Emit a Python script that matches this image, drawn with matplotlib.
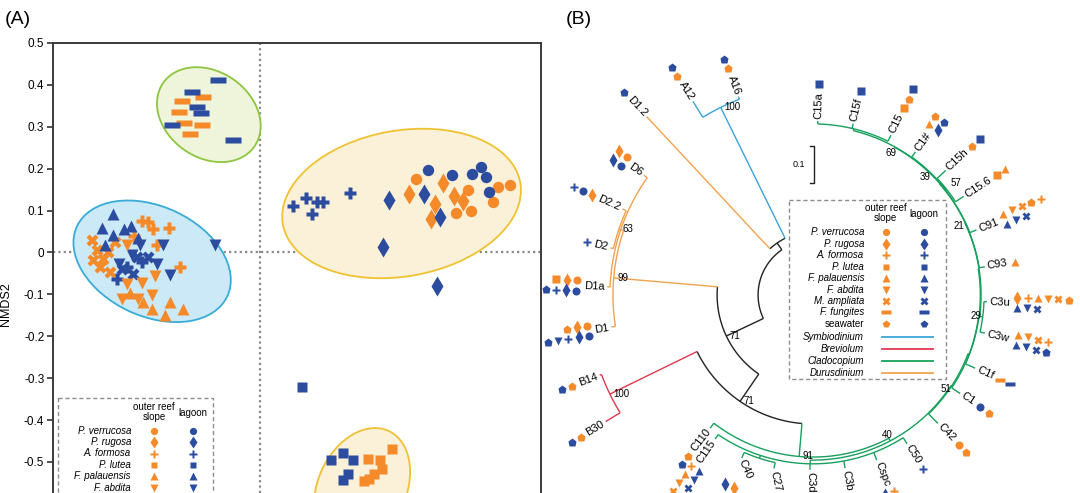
import numpy as np
import matplotlib.pyplot as plt
from matplotlib.patches import Ellipse, Rectangle
from matplotlib.path import Path
from matplotlib.textpath import TextPath
from matplotlib.font_manager import FontProperties

plt.rcParams['font.family'] = ['Liberation Sans', 'DejaVu Sans']

ORANGE = '#f58a2b'
BLUE = '#2c4d9f'

# ---------------- (A) NMDS coordinates (NMDS1, NMDS2) ----------------
verrucosa_outer = [(0.371, 0.175), (0.496, 0.149), (0.467, 0.094), (0.502, 0.098),
                   (0.555, 0.121), (0.567, 0.156), (0.596, 0.161)]
verrucosa_lagoon = [(0.400, 0.197), (0.458, 0.185), (0.504, 0.187), (0.525, 0.203),
                    (0.538, 0.179), (0.544, 0.145)]
rugosa_outer = [(0.354, 0.140), (0.435, 0.165), (0.417, 0.116), (0.461, 0.136),
                (0.407, 0.080), (0.483, 0.124)]
rugosa_lagoon = [(0.306, 0.126), (0.293, 0.013), (0.390, 0.140), (0.429, 0.084),
                 (0.421, -0.081)]
formosa_outer = [(-0.282, 0.076), (-0.254, 0.056), (-0.266, 0.072), (-0.218, 0.058),
                 (-0.190, -0.035), (-0.246, 0.017), (-0.300, 0.040)]
formosa_lagoon = [(0.078, 0.110), (0.110, 0.130), (0.135, 0.120), (0.149, 0.120),
                  (0.123, 0.092), (0.215, 0.141), (-0.282, -0.023), (-0.317, -0.035),
                  (-0.341, -0.063)]
lutea_outer = [(0.256, -0.494), (0.286, -0.495), (0.315, -0.470), (0.290, -0.517),
               (0.271, -0.529), (0.248, -0.545), (0.260, -0.540)]
lutea_lagoon = [(0.169, -0.495), (0.198, -0.479), (0.222, -0.495), (0.197, -0.543),
                (0.210, -0.529), (0.099, -0.322)]
palauensis_outer = [(-0.310, -0.096), (-0.258, -0.134), (-0.214, -0.117), (-0.183, -0.134),
                    (-0.226, -0.150), (-0.279, -0.117)]
palauensis_lagoon = [(-0.351, 0.092), (-0.377, 0.058), (-0.324, 0.055), (-0.349, 0.042),
                     (-0.290, 0.034), (-0.308, 0.063), (-0.369, 0.017)]
abdita_outer = [(-0.317, -0.075), (-0.282, -0.072), (-0.250, -0.055), (-0.329, -0.110),
                (-0.290, -0.112), (-0.258, -0.102), (-0.317, 0.017)]
abdita_lagoon = [(-0.107, 0.017), (-0.230, 0.017), (-0.214, -0.053), (-0.246, -0.027),
                 (-0.306, -0.007), (-0.286, 0.017), (-0.337, -0.027)]
ampliata_outer = [(-0.401, 0.029), (-0.389, 0.005), (-0.373, -0.015), (-0.381, -0.035),
                  (-0.357, -0.047), (-0.361, 0.001), (-0.345, 0.025), (-0.397, -0.019)]
ampliata_lagoon = [(-0.329, -0.040), (-0.292, -0.011), (-0.268, -0.011), (-0.303, -0.051)]
fungites_outer = [(-0.185, 0.362), (-0.136, 0.370), (-0.193, 0.336), (-0.182, 0.310),
                  (-0.139, 0.304), (-0.168, 0.284)]
fungites_lagoon = [(-0.101, 0.412), (-0.161, 0.383), (-0.149, 0.348), (-0.140, 0.334),
                   (-0.210, 0.304), (-0.065, 0.268)]

# clusters: centre x, centre y, width, height, angle
cluster_green = (-0.122, 0.329, 0.265, 0.205, -35)
cluster_blue = (-0.257, -0.021, 0.395, 0.262, -25)
cluster_yellow = (0.337, 0.117, 0.574, 0.348, 10)
cluster_yellow2 = (0.243, -0.562, 0.30, 0.21, 65)

species = ['P. verrucosa', 'P. rugosa', 'A. formosa', 'P. lutea', 'F. palauensis',
           'F. abdita', 'M. ampliata', 'F. fungites', 'seawater']
codes = ['c', 'd', 'p', 's', 't', 'v', 'x', 'm', 'h']

# ---------------- (B) ITS2 tree ----------------
tip_names = ['A16', 'A12', 'D1.2', 'D6', 'D2.2', 'D2', 'D1a', 'D1', 'B14', 'B30',
             'C110', 'C115', 'C40', 'C27', 'C3d', 'C3b', 'Cspc', 'C50', 'C42', 'C1',
             'C1f', 'C3w', 'C3u', 'C93', 'C91', 'C15.6', 'C15h', 'C1#', 'C15', 'C15f', 'C15a']
tip_angles = [110.6, 121.8, 133.0, 144.7, 155.7, 166.9, 177.7, 189.0, 200.6, 211.4,
              232.3, 235.8, 246.4, 257.3, 269.0, 280.5, 291.1, 302.3, 314.2, 326.2,
              335.7, 347.5, 357.8, 9.3, 21.7, 33.2, 43.2, 54.4, 64.0, 76.8, 88.4]
tip_dists = [0.564, 0.606, 0.649, 0.551, 0.556, 0.553, 0.548, 0.543, 0.606, 0.646,
             0.447, 0.463, 0.473, 0.473, 0.465, 0.468, 0.471, 0.468, 0.476, 0.471,
             0.473, 0.468, 0.463, 0.463, 0.468, 0.479, 0.484, 0.468, 0.473, 0.468, 0.463]
# O = outer reef slope, L = lagoon ; species code as in `codes` ; '/' splits two rows
tip_hosts = ['Oh Lh', 'Oh Lh', 'Lh', 'Oc Od/Lc Ld', 'Od Lc Lp', 'Lp', 'Oc Od Os/Lc Ld Lp Lh',
             'Oc Od Oh/Lc Ld Lp Lv Lh', 'Oh Lh', 'Oh Lh', 'Oh Lh', 'Op Ot Ov Ox/Lt Lv Lx',
             'Od/Ld', '', '', 'Lp', 'Op/Ld', 'Lp', 'Oc Oh', 'Lc Oh', 'Om Lm',
             'Ot Ov Ox Op/Lt Lv Lx Lh', 'Od Op Ot Ov Ox Oh/Lt Lv Lx', 'Ot',
             'Ot Ov Ox Oh Op/Lt Lv Lx', 'Os Ot', 'Oh Ls', 'Ot Oh/Ld Lh', 'Os Oh Ls', 'Ls', 'Ls']

node_names = ['root', 'AD', 'A', 'n2', 'D', 'Dx', 'D63', 'n3', 'B', 'C', 'CB', 'Cbot',
              'C4027', 'R', 'R2', 'R3', 'R4', 'C29', 'R5', 'R6', 'R7', 'n39', 'n57', 'n69']
node_dists = [0.146, 0.168, 0.556, 0.255, 0.532, 0.540, 0.545, 0.343, 0.601, 0.431,
              0.439, 0.449, 0.457, 0.441, 0.444, 0.445, 0.447, 0.455, 0.448, 0.449,
              0.450, 0.451, 0.453, 0.455]
node_kids = [['AD', 'n2'], ['A', 'D1.2'], ['A16', 'A12'], ['D', 'n3'], ['Dx', 'D1'],
             ['D6', 'D63', 'D1a'], ['D2.2', 'D2'], ['B', 'C'], ['B14', 'B30'],
             ['C110', 'CB'], ['Cbot', 'R'], ['C115', 'C4027', 'C3d', 'C3b', 'Cspc', 'C50'],
             ['C40', 'C27'], ['C42', 'R2'], ['C1', 'R3'], ['C1f', 'R4'], ['C29', 'R5'],
             ['C3w', 'C3u'], ['C93', 'R6'], ['C91', 'R7'], ['n39', 'n69'], ['n57', 'C1#'],
             ['C15.6', 'C15h'], ['C15', 'C15f', 'C15a']]
node_support = [None, None, 100, 71, 99, None, 63, 71, 100, 91, 40, None, None, 51,
                None, None, None, 29, 21, None, 69, 39, 57, None]
support_outside = ['n57']
support_lowered = ['R']

genera = ['Symbiodinium', 'Breviolum', 'Cladocopium', 'Durusdinium']
genus_colors = ['#3ba3d9', '#e2384d', '#17a05d', '#f2a24f']

# ---------------- styles ----------------
BAR = Path([(-1, -0.4), (1, -0.4), (1, 0.4), (-1, 0.4), (-1, -0.4)],
           [Path.MOVETO, Path.LINETO, Path.LINETO, Path.LINETO, Path.CLOSEPOLY])
MARK = {'c': ('o', 1.0), 'd': ('d', 1.2), 'p': ('P', 1.05), 's': ('s', 0.9),
        't': ('^', 1.1), 'v': ('v', 1.1), 'x': ('X', 1.05), 'm': (BAR, 1.35), 'h': ('p', 1.1)}
SITE = {'O': ORANGE, 'L': BLUE}

W, H = 1080, 493
fig = plt.figure(figsize=(W / 100, H / 100), dpi=100)

# ================= panel A =================
ax = fig.add_axes([52.6 / W, 0, (541 - 52.6) / W, 1 - 43 / H])
ax.set_xlim(-0.494, 0.669)
ax.set_ylim(-0.574, 0.5)

for (cx, cy, w, h, a), fc, ec in [(cluster_green, '#eef5da', '#8dc63f'),
                                  (cluster_blue, '#cbe9f6', '#38acd8'),
                                  (cluster_yellow, '#fbf1d8', '#f0c232'),
                                  (cluster_yellow2, '#fbf1d8', '#f0c232')]:
    ax.add_patch(Ellipse((cx, cy), w, h, angle=a, fc=fc, ec=ec, lw=1.3, zorder=1))

ax.axhline(0, color='#8a8a8a', ls=(0, (1, 1.4)), lw=1.6, zorder=0.5)
ax.axvline(0, color='#8a8a8a', ls=(0, (1, 1.4)), lw=1.6, zorder=0.5)

groups = [('c', 'O', verrucosa_outer), ('c', 'L', verrucosa_lagoon),
          ('d', 'O', rugosa_outer), ('d', 'L', rugosa_lagoon),
          ('s', 'L', lutea_lagoon), ('s', 'O', lutea_outer),
          ('x', 'O', ampliata_outer), ('p', 'O', formosa_outer),
          ('t', 'L', palauensis_lagoon), ('v', 'L', abdita_lagoon),
          ('x', 'L', ampliata_lagoon), ('p', 'L', formosa_lagoon),
          ('v', 'O', abdita_outer), ('t', 'O', palauensis_outer),
          ('m', 'O', fungites_outer), ('m', 'L', fungites_lagoon)]
for code, site, pts in groups:
    x, y = np.array(pts).T
    m, f = MARK[code]
    ax.plot(x, y, ls='none', marker=m, ms=8.2 * f, color=SITE[site], mec='none', zorder=3)

yt = np.round(np.arange(-0.5, 0.51, 0.1), 1)
ax.set_yticks(yt)
ax.set_yticklabels(['0' if v == 0 else f'{v:.1f}' for v in yt])
ax.set_xticks([])
ax.tick_params(axis='y', direction='out', length=4, width=1.2, labelsize=8.5, pad=2,
               color='#333333')
ax.spines['bottom'].set_visible(False)
for s in ['left', 'right', 'top']:
    ax.spines[s].set_linewidth(1.4)
    ax.spines[s].set_color('#3a3a3a')
ax.set_ylabel('NMDS2', fontsize=9)
ax.yaxis.set_label_coords(-0.083, 0.42)

# ================= panel B =================
K = 376.0  # pixels per unit branch length (scale bar 0.1)
OX, OY = 813, 295
ax2 = fig.add_axes([530 / W, 0, 550 / W, 1])
ax2.set_xlim((530 - OX) / K, (W - OX) / K)
ax2.set_ylim((OY - H) / K, OY / K)
ax2.axis('off')

kids = dict(zip(node_names, node_kids))
dist = dict(zip(tip_names, tip_dists))
dist.update(zip(node_names, node_dists))
ang = {n: (a + 360 if a < 100 else a) for n, a in zip(tip_names, tip_angles)}


def place(n):
    if n in kids:
        a = [place(c) for c in kids[n]]
        ang[n] = (min(a) + max(a)) / 2
    return ang[n]


place('root')
gcol = dict(zip('ABCD', genus_colors))


def colour(n):
    if n not in kids:
        return gcol[n[0]]
    cs = {colour(c) for c in kids[n]}
    return cs.pop() if len(cs) == 1 else '#222222'


LW = 1.0
for n in node_names:
    a = [ang[c] for c in kids[n]]
    t = np.radians(np.linspace(min(a), max(a), 80))
    ax2.plot(dist[n] * np.cos(t), dist[n] * np.sin(t), color=colour(n), lw=LW,
             solid_capstyle='butt')
    for c in kids[n]:
        th = np.radians(ang[c])
        ax2.plot([dist[n] * np.cos(th), dist[c] * np.cos(th)],
                 [dist[n] * np.sin(th), dist[c] * np.sin(th)], color=colour(c), lw=LW,
                 solid_capstyle='butt')

# bootstrap values
SUP_FS = 7
for n, sup in zip(node_names, node_support):
    if sup is None:
        continue
    th = np.radians(ang[n])
    if colour(n) == gcol['C'] and n != 'C':
        r = dist[n] + (11 if n in support_outside else -7) / K
        dy = -7 / K if n in support_lowered else 0
        ax2.text(r * np.cos(th), r * np.sin(th) + dy, str(sup), fontsize=SUP_FS,
                 ha='center', va='center')
    else:
        ax2.annotate(str(sup), (dist[n] * np.cos(th), dist[n] * np.sin(th)),
                     xytext=(2.5, 0), textcoords='offset points', fontsize=SUP_FS,
                     ha='left', va='center')

# tip labels and host markers
LAB_FS = 8
fprop = FontProperties(family='Liberation Sans')
for name, hosts in zip(tip_names, tip_hosts):
    a = ang[name] % 360
    th = np.radians(a)
    r = dist[name] + 2.5 / K
    if 90 < a < 240:
        rot, ha, side = a - 180, 'right', -np.pi / 2
    elif 240 <= a < 270:
        rot, ha, side = 180 - a, 'left', np.pi / 2
    else:
        rot, ha, side = (a if a < 90 else a - 360), 'left', np.pi / 2
    ax2.text(r * np.cos(th), r * np.sin(th), name, rotation=rot, rotation_mode='anchor',
             ha=ha, va='center', fontsize=LAB_FS)
    if not hosts:
        continue
    wpx = TextPath((0, 0), name, size=LAB_FS * 100 / 72, prop=fprop).get_extents().width
    r0 = r + (wpx + 8.5) / K
    u = np.array([np.cos(th), np.sin(th)])
    v = np.array([np.cos(th + side), np.sin(th + side)])
    rows = hosts.split('/')
    offs = [0.0] if len(rows) == 1 else [5.2, -5.2]
    for row, off in zip(rows, offs):
        for i, tok in enumerate(row.split()):
            p = (r0 + i * 10.3 / K) * u + (off / K) * v
            m, f = MARK[tok[1]]
            ax2.plot(p[0], p[1], ls='none', marker=m, ms=5.8 * f, color=SITE[tok[0]],
                     mec='none', clip_on=False)

# scale bar (0.1 substitutions per site)
sb_x, sb_y0, sb_len = 0.002, 0.297, 0.1
ax2.plot([sb_x - 4 / K, sb_x, sb_x, sb_x - 4 / K],
         [sb_y0, sb_y0, sb_y0 + sb_len, sb_y0 + sb_len], color='#222222', lw=1.0)
ax2.text(sb_x - 9 / K, sb_y0 + sb_len / 2, '0.1', fontsize=6.5, ha='right', va='center')

# ================= overlay: legends and panel letters =================
ov = fig.add_axes([0, 0, 1, 1], zorder=10)
ov.set_xlim(0, W)
ov.set_ylim(H, 0)
ov.axis('off')

ov.text(5, 19, '(A)', fontsize=14, ha='left', va='center')
ov.text(566, 19, '(B)', fontsize=14, ha='left', va='center')


def host_legend(x0, x1, y0, y1, name_x, ox, bx, head_y, row0, dy, n_rows, with_genera):
    ov.add_patch(Rectangle((x0, y0), x1 - x0, y1 - y0, fc='white', ec='#8c8c8c',
                           lw=1.0, ls=(0, (3, 2)), zorder=1))
    ov.text(ox, head_y, 'outer reef\nslope', fontsize=7, ha='center', va='center',
            linespacing=1.05, zorder=2)
    ov.text(bx, head_y + 1, 'lagoon', fontsize=7, ha='center', va='center', zorder=2)
    for i, (sp, code) in enumerate(list(zip(species, codes))[:n_rows]):
        y = row0 + i * dy
        ov.text(name_x, y, sp, fontsize=7, ha='right', va='center',
                style='normal' if sp == 'seawater' else 'italic', zorder=2)
        m, f = MARK[code]
        ov.plot([ox], [y], ls='none', marker=m, ms=5.2 * f, color=ORANGE, mec='none', zorder=2)
        ov.plot([bx], [y], ls='none', marker=m, ms=5.2 * f, color=BLUE, mec='none', zorder=2)
    if with_genera:
        for j, (g, c) in enumerate(zip(genera, genus_colors)):
            y = row0 + n_rows * dy + 1.5 + j * 12.1
            ov.text(name_x, y, g, fontsize=7, ha='right', va='center', style='italic', zorder=2)
            ov.plot([ox - 4, bx + 9], [y, y], color=c, lw=1.3, zorder=2)


# panel A legend runs past the lower edge of the figure: only its visible rows
host_legend(58, 213, 398, 540, 131, 154, 193, 412, 430.7, 11.4, 6, False)
host_legend(789, 946, 200, 379, 864, 885.7, 924, 213, 232.3, 11.45, 9, True)

fig.savefig('out.png', dpi=100)
